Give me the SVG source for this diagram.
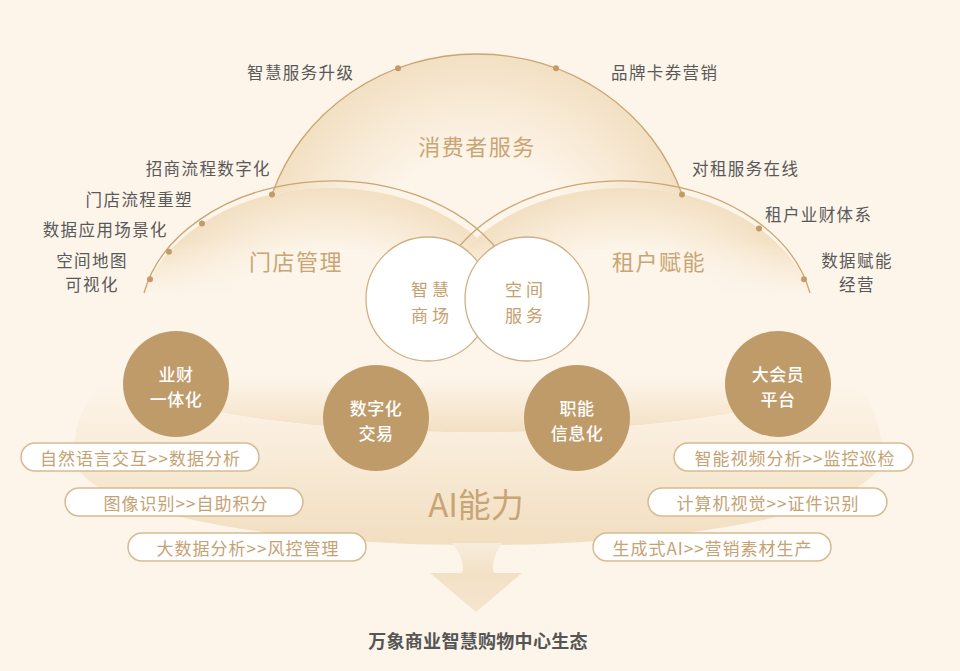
<svg xmlns="http://www.w3.org/2000/svg" width="960" height="671" viewBox="0 0 960 671">
<defs>
<style>
text{font-family:"Noto Sans CJK SC","Noto Sans",sans-serif;}
.lbl{font-size:16.5px;fill:#595959;letter-spacing:1.4px;dominant-baseline:central;}
.ttl{font-size:22px;fill:#c9a574;letter-spacing:1.5px;text-anchor:middle;dominant-baseline:central;}
.arc{fill:none;stroke:#c9a672;stroke-width:1.3;}
.dot{fill:#c29c68;}
.wc{fill:#ffffff;stroke:#cfb084;stroke-width:1.3;}
.wt{font-size:17px;fill:#c4a170;letter-spacing:4px;text-anchor:middle;dominant-baseline:central;}
.bc{fill:#bf9b6a;}
.bt{font-size:17px;fill:#ffffff;font-weight:500;text-anchor:middle;dominant-baseline:central;letter-spacing:0.5px;}
.pill{fill:#ffffff;stroke:#d6bb92;stroke-width:1.5;}
.pt{font-size:17px;fill:#c5a273;letter-spacing:1px;text-anchor:middle;dominant-baseline:central;}
.bg{fill:#fdf5ea;}
</style>
<radialGradient id="gTop" gradientUnits="userSpaceOnUse" cx="477" cy="259" r="216" gradientTransform="translate(477 259) scale(1 0.949) translate(-477 -259)">
<stop offset="0" stop-color="#fdf5ea"/><stop offset="0.5" stop-color="#fdf5ea"/><stop offset="1" stop-color="#f3e0c3"/>
</radialGradient>
<radialGradient id="gLeft" gradientUnits="userSpaceOnUse" cx="330" cy="328" r="192" gradientTransform="translate(330 328) scale(1 0.729) translate(-330 -328)">
<stop offset="0" stop-color="#fdf5ea"/><stop offset="0.55" stop-color="#fdf5ea"/><stop offset="1" stop-color="#f3e0c3"/>
</radialGradient>
<radialGradient id="gRight" gradientUnits="userSpaceOnUse" cx="624" cy="328" r="192" gradientTransform="translate(624 328) scale(1 0.729) translate(-624 -328)">
<stop offset="0" stop-color="#fdf5ea"/><stop offset="0.55" stop-color="#fdf5ea"/><stop offset="1" stop-color="#f3e0c3"/>
</radialGradient>
<linearGradient id="gFade" gradientUnits="userSpaceOnUse" x1="0" y1="200" x2="0" y2="294">
<stop offset="0" stop-color="#ffffff"/><stop offset="0.45" stop-color="#ffffff"/><stop offset="1" stop-color="#000000"/>
</linearGradient>
<mask id="mFade" maskUnits="userSpaceOnUse" x="0" y="0" width="960" height="671">
<rect x="0" y="0" width="960" height="671" fill="url(#gFade)"/>
</mask>
<linearGradient id="gInner" gradientUnits="userSpaceOnUse" x1="0" y1="378" x2="0" y2="432">
<stop offset="0" stop-color="#f3e0c3" stop-opacity="0"/><stop offset="1" stop-color="#f3e0c3" stop-opacity="1"/>
</linearGradient>
<linearGradient id="gBody" gradientUnits="userSpaceOnUse" x1="0" y1="385" x2="0" y2="545">
<stop offset="0" stop-color="#fdf5ea"/><stop offset="1" stop-color="#f2dec0"/>
</linearGradient>
<linearGradient id="gArrow" gradientUnits="userSpaceOnUse" x1="0" y1="543" x2="0" y2="612">
<stop offset="0" stop-color="#f8ecdb"/><stop offset="0.45" stop-color="#f3e1c6"/><stop offset="1" stop-color="#f5e5cf"/>
</linearGradient>
</defs>
<rect x="0" y="0" width="960" height="671" fill="#fdf5ea"/>

<g id="arc-fills">
<path d="M261,259 A216,205 0 0,1 693,259 Z" fill="url(#gTop)"/>
<path class="bg" d="M144,293 A192,140 0 0,1 516,293 Z"/>
<path d="M144,293 A192,140 0 0,1 516,293 Z" fill="url(#gLeft)" mask="url(#mFade)"/>
<path class="bg" d="M438,293 A192,140 0 0,1 810,293 Z"/>
<path d="M438,293 A192,140 0 0,1 810,293 Z" fill="url(#gRight)" mask="url(#mFade)"/>
</g>

<g id="connectors">
<path class="arc" d="M272,194.4 A216,205 0 0,1 682,194.4"/>
<path class="arc" d="M144,293 A192,140 0 0,1 500,253"/>
<path class="arc" d="M810,293 A192,140 0 0,0 454,253"/>
<circle class="dot" cx="398" cy="68.2" r="3"/>
<circle class="dot" cx="556" cy="68.2" r="3"/>
<circle class="dot" cx="272" cy="194.4" r="3"/>
<circle class="dot" cx="682" cy="194.4" r="3"/>
<circle class="dot" cx="202" cy="223.6" r="3"/>
<circle class="dot" cx="169" cy="251.7" r="3"/>
<circle class="dot" cx="150" cy="279.3" r="3"/>
<circle class="dot" cx="759" cy="228.4" r="3"/>
<circle class="dot" cx="804" cy="279.3" r="3"/>
</g>

<g id="titles">
<text class="ttl" x="477" y="145">消费者服务</text>
<text class="ttl" x="296" y="260">门店管理</text>
<text class="ttl" x="659" y="260">租户赋能</text>
</g>

<g id="labels">
<text class="lbl" x="247" y="72">智慧服务升级</text>
<text class="lbl" x="611" y="72">品牌卡券营销</text>
<text class="lbl" x="271" y="168" text-anchor="end">招商流程数字化</text>
<text class="lbl" x="193" y="199" text-anchor="end">门店流程重塑</text>
<text class="lbl" x="168" y="229" text-anchor="end">数据应用场景化</text>
<text class="lbl" x="92" y="260" text-anchor="middle">空间地图</text>
<text class="lbl" x="92" y="284" text-anchor="middle">可视化</text>
<text class="lbl" x="692" y="168">对租服务在线</text>
<text class="lbl" x="765" y="214">租户业财体系</text>
<text class="lbl" x="857" y="260" text-anchor="middle">数据赋能</text>
<text class="lbl" x="857" y="284" text-anchor="middle">经营</text>
</g>

<g id="bowl">
<path d="M110,373 C200,452 756,452 846,373 C760,345 196,345 110,373 Z" fill="url(#gInner)"/>
<path d="M110,373 C200,452 756,452 846,373 C876,400 890,445 876,472 C836,520 656,545 478,545 C300,545 120,520 80,472 C66,445 80,400 110,373 Z" fill="url(#gBody)"/>
<text x="476" y="503" font-size="33" fill="#c8a575" text-anchor="middle" dominant-baseline="central">AI能力</text>
</g>

<g id="arrow">
<path d="M452,543 Q466,560 462,573 L430,573 L476,612 L522,573 L494,573 Q490,560 502,543 Z" fill="url(#gArrow)"/>
</g>

<g id="node-smart-mall">
<circle class="wc" cx="428" cy="299" r="62"/>
<text class="wt" x="432" y="288">智慧</text>
<text class="wt" x="432" y="314">商场</text>
</g>
<g id="node-space-service">
<circle class="wc" cx="527" cy="299" r="62"/>
<text class="wt" x="526" y="288">空间</text>
<text class="wt" x="526" y="314">服务</text>
</g>

<g id="node-yecai">
<circle class="bc" cx="176" cy="384" r="53"/>
<text class="bt" x="176" y="373">业财</text>
<text class="bt" x="176" y="398">一体化</text>
</g>
<g id="node-trade">
<circle class="bc" cx="376" cy="418" r="53"/>
<text class="bt" x="376" y="407">数字化</text>
<text class="bt" x="376" y="432">交易</text>
</g>
<g id="node-func">
<circle class="bc" cx="577" cy="418" r="53"/>
<text class="bt" x="577" y="407">职能</text>
<text class="bt" x="577" y="432">信息化</text>
</g>
<g id="node-member">
<circle class="bc" cx="778" cy="384" r="53"/>
<text class="bt" x="778" y="373">大会员</text>
<text class="bt" x="778" y="398">平台</text>
</g>

<g id="pill-l1"><rect class="pill" x="21" y="443" width="238" height="28" rx="14"/><text class="pt" x="140.5" y="457">自然语言交互&gt;&gt;数据分析</text></g>
<g id="pill-l2"><rect class="pill" x="65" y="488" width="238" height="28" rx="14"/><text class="pt" x="186" y="502">图像识别&gt;&gt;自助积分</text></g>
<g id="pill-l3"><rect class="pill" x="128" y="533" width="238" height="28" rx="14"/><text class="pt" x="248" y="547">大数据分析&gt;&gt;风控管理</text></g>
<g id="pill-r1"><rect class="pill" x="674" y="443" width="239" height="28" rx="14"/><text class="pt" x="795" y="457">智能视频分析&gt;&gt;监控巡检</text></g>
<g id="pill-r2"><rect class="pill" x="648" y="488" width="239" height="28" rx="14"/><text class="pt" x="768" y="502">计算机视觉&gt;&gt;证件识别</text></g>
<g id="pill-r3"><rect class="pill" x="593" y="533" width="238" height="28" rx="14"/><text class="pt" x="712.5" y="547">生成式AI&gt;&gt;营销素材生产</text></g>

<g id="footer">
<text x="478" y="640" font-size="18" font-weight="bold" fill="#555555" text-anchor="middle" dominant-baseline="central" letter-spacing="0.3">万象商业智慧购物中心生态</text>
</g>
</svg>
